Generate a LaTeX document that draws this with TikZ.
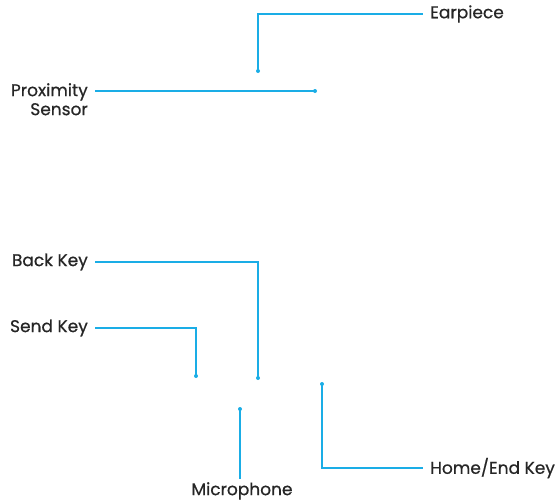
\documentclass[tikz,border=0pt]{standalone}
\usepackage{fontspec}
\setmainfont{Poppins}
\newfontfamily\lblfont{Poppins}[FakeBold=0.6]
\usepackage{xcolor}
\usetikzlibrary{positioning}
\definecolor{callout}{HTML}{1AADE6}

\begin{document}
\begin{tikzpicture}[x=1pt,y=-1pt]
\tikzstyle{lbl} = [inner sep=3pt, font=\lblfont\fontsize{17}{19}\selectfont, text=black!85]
\tikzstyle{line} = [draw, callout, line width=1.1pt]
\tikzstyle{pin} = [fill, callout, circle, inner sep=0pt, minimum size=4pt]

\useasboundingbox (0,0) rectangle (558,501);

% dots on the phone
\coordinate (ear) at (258,71);
\coordinate (prox) at (315,91);
\coordinate (back) at (258,378);
\coordinate (send) at (196,376);
\coordinate (home) at (322,384);
\coordinate (mic) at (240,409);

\node [lbl, anchor=west] (earL) at (427,14) {Earpiece};
\node [lbl, anchor=north east, align=right] (proxL) at (91,80) {Proximity\\Sensor};
\node [lbl, anchor=east] (backL) at (91,262) {Back Key};
\node [lbl, anchor=east] (sendL) at (91,328) {Send Key};
\node [lbl, anchor=west] (homeL) at (427,468) {Home/End Key};
\node [lbl, anchor=north, inner sep=1pt] (micL) at (242,481) {Microphone};

\path [line] (ear) |- ([xshift=-4pt]earL.west);
\path [line] (prox) -- ([xshift=4pt]proxL.east |- prox);
\path [line] (back) |- ([xshift=4pt]backL.east);
\path [line] (send) |- ([xshift=4pt]sendL.east);
\path [line] (home) |- ([xshift=-4pt]homeL.west);
\path [line] (mic) -- ([yshift=2pt]micL.north -| mic);

\foreach \p in {ear,prox,back,send,home,mic}
  \node [pin] at (\p) {};
\end{tikzpicture}
\end{document}
